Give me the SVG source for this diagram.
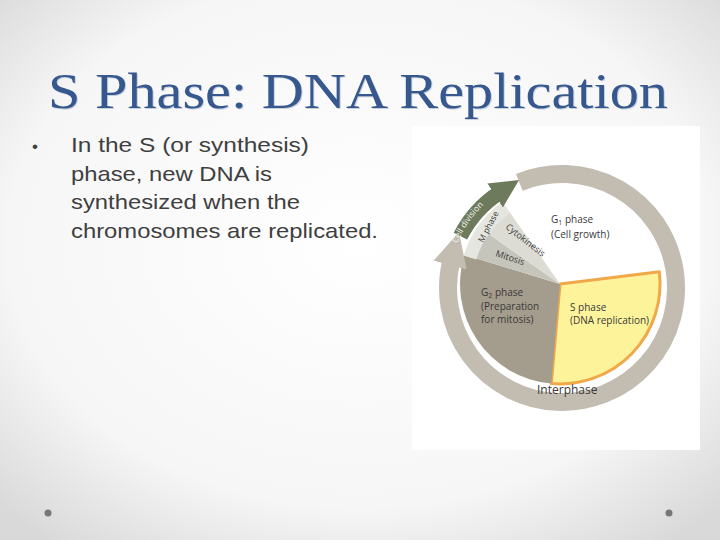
<svg xmlns="http://www.w3.org/2000/svg" width="720" height="540" viewBox="0 0 720 540">
<defs>
<radialGradient id="bg" cx="50%" cy="45%" r="70%"><stop offset="0" stop-color="#ffffff"/><stop offset="0.7" stop-color="#f6f6f6"/><stop offset="1" stop-color="#d9d9d9"/></radialGradient>
<marker id="gh" viewBox="0 0 10 10" refX="2" refY="5" markerWidth="1.9" markerHeight="2" orient="auto" markerUnits="strokeWidth"><path d="M0,0 L10,5 L0,10 Z" fill="#6d7a5c"/></marker>
<marker id="rh" viewBox="0 0 10 10" refX="2" refY="5" markerWidth="1.9" markerHeight="2" orient="auto" markerUnits="strokeWidth"><path d="M0,0 L10,5 L0,10 Z" fill="#c3bdb1"/></marker>
<path id="cdp" d="M456.3,245.3 A114,114 0 0 1 513.8,184.7"/>
</defs>
<style>
.lbl{font-family:"Open Sans","Liberation Sans",sans-serif;font-size:10px;fill:#3a3a3a}
.bul{font-family:"Liberation Sans",Arial,sans-serif;font-size:21px;fill:#3f3f3f}
</style>
<rect width="720" height="540" fill="url(#bg)"/>
<text x="49" y="109" textLength="620" lengthAdjust="spacingAndGlyphs" font-family="Liberation Serif,serif" font-size="50" fill="#c8d0dc">S Phase: DNA Replication</text>
<text x="48" y="108" textLength="620" lengthAdjust="spacingAndGlyphs" font-family="Liberation Serif,serif" font-size="50" fill="#37588e">S Phase: DNA Replication</text>
<g id="bullets" class="bul">
<text x="32" y="152" font-size="17">•</text>
<text x="71" y="152" textLength="238" lengthAdjust="spacingAndGlyphs">In the S (or synthesis)</text>
<text x="71" y="181" textLength="201" lengthAdjust="spacingAndGlyphs">phase, new DNA is</text>
<text x="71" y="209" textLength="229" lengthAdjust="spacingAndGlyphs">synthesized when the</text>
<text x="71" y="238" textLength="307" lengthAdjust="spacingAndGlyphs">chromosomes are replicated.</text>
</g>
<rect x="412" y="126" width="288" height="324" fill="#ffffff"/>
<g id="pie">
<path id="g1" d="M560,284 L502.6,202.1 A100,100 0 0 1 659.3,271.8 Z" fill="#ffffff"/>
<path id="s" d="M560,284 L659.3,271.8 A100,100 0 0 1 551.3,383.6 Z" fill="#fdf39a" stroke="#f0a848" stroke-width="3" stroke-linejoin="round"/>
<path id="g2" d="M560,284 L551.3,383.6 A100,100 0 0 1 464.4,254.8 Z" fill="#a49c8c"/>
<path id="mitosis" d="M560,284 L464.4,254.8 A100,100 0 0 1 478.1,226.6 Z" fill="#c6c5bb"/>
<path id="cyto" d="M560,284 L478.1,226.6 A100,100 0 0 1 502.6,202.1 Z" fill="#dcdcd4"/>
<path d="M470.1,257.6 A93,93 0 0 1 506.7,207.8" fill="none" stroke="#e6e6e0" stroke-width="13"/>
</g>
<g id="connectors">
<path d="M519.3,182.3 A114,114 0 1 1 451.9,258.5" fill="none" stroke="#c3bdb1" stroke-width="18" marker-end="url(#rh)"/>
<path d="M460.4,236.2 A114,114 0 0 1 499.9,192.4" fill="none" stroke="#6d7a5c" stroke-width="15" marker-end="url(#gh)"/>
</g>
<g id="labels">
<text class="lbl" style="fill:#f4f4f0;font-size:8.5px"><textPath href="#cdp" startOffset="2">Cell division</textPath></text>
<text class="lbl" transform="translate(483,243) rotate(-62)" style="font-size:8.5px">M phase</text>
<text class="lbl" transform="translate(505,228) rotate(38)" style="font-size:9px">Cytokinesis</text>
<text class="lbl" transform="translate(495,256) rotate(18)" style="font-size:9px">Mitosis</text>
<text class="lbl" x="551" y="223">G<tspan font-size="7" dy="2">1</tspan><tspan dy="-2"> phase</tspan></text>
<text class="lbl" x="551" y="238">(Cell growth)</text>
<text class="lbl" x="481" y="296">G<tspan font-size="7" dy="2">2</tspan><tspan dy="-2"> phase</tspan></text>
<text class="lbl" x="481" y="310">(Preparation</text>
<text class="lbl" x="481" y="323">for mitosis)</text>
<text class="lbl" x="570" y="311">S phase</text>
<text class="lbl" x="570" y="324">(DNA replication)</text>
<text class="lbl" x="537" y="394" style="font-size:12px">Interphase</text>
</g>
<circle cx="48" cy="513" r="3.5" fill="#777"/>
<circle cx="669" cy="513" r="3.5" fill="#777"/>
</svg>
